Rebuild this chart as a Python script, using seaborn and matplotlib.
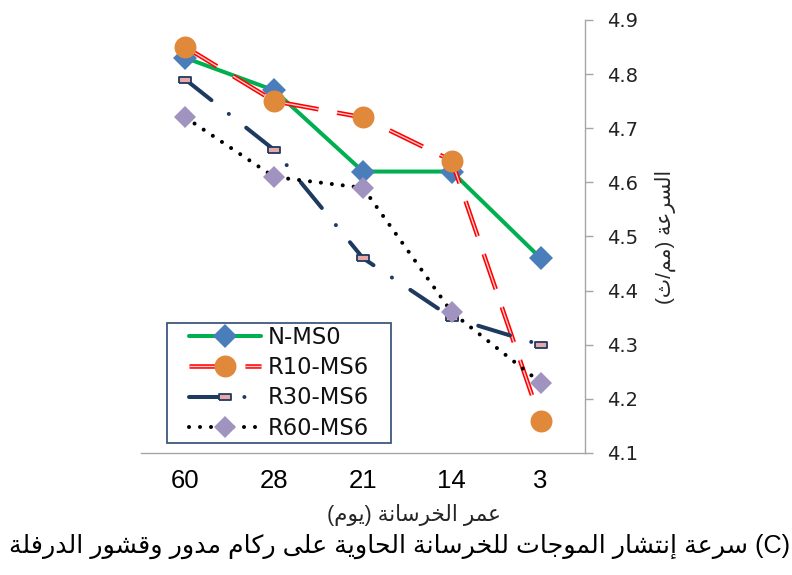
import re
import numpy as np
import pandas as pd
import matplotlib
matplotlib.use("Agg")
import matplotlib.pyplot as plt
import matplotlib.patheffects as pe
from matplotlib.lines import Line2D
from matplotlib.patches import Rectangle
from matplotlib.ticker import FixedLocator
from matplotlib.legend_handler import HandlerTuple
from matplotlib.transforms import IdentityTransform
import seaborn as sns

# ---------------- data ----------------
ages = ["60", "28", "21", "14", "3"]
n_ms0 = [4.83, 4.77, 4.62, 4.62, 4.46]
r10_ms6 = [4.85, 4.75, 4.72, 4.64, 4.16]
r30_ms6 = [4.79, 4.66, 4.46, 4.35, 4.30]
r60_ms6 = [4.72, 4.61, 4.59, 4.36, 4.23]
series_names = ["N-MS0", "R10-MS6", "R30-MS6", "R60-MS6"]
y_ticks = [4.1, 4.2, 4.3, 4.4, 4.5, 4.6, 4.7, 4.8, 4.9]
x_title = "عمر الخرسانة (يوم)"
y_title = "السرعة (مم/ث)"
caption = "(C) سرعة إنتشار الموجات للخرسانة الحاوية على ركام مدور وقشور الدرفلة"

# ------------- minimal Arabic shaping + RTL ordering -------------
AR = {
    'ء': (0xFE80,), 'آ': (0xFE81, 0xFE82), 'أ': (0xFE83, 0xFE84),
    'إ': (0xFE87, 0xFE88), 'ا': (0xFE8D, 0xFE8E),
    'ب': (0xFE8F, 0xFE90, 0xFE91, 0xFE92), 'ة': (0xFE93, 0xFE94),
    'ت': (0xFE95, 0xFE96, 0xFE97, 0xFE98), 'ث': (0xFE99, 0xFE9A, 0xFE9B, 0xFE9C),
    'ج': (0xFE9D, 0xFE9E, 0xFE9F, 0xFEA0), 'ح': (0xFEA1, 0xFEA2, 0xFEA3, 0xFEA4),
    'خ': (0xFEA5, 0xFEA6, 0xFEA7, 0xFEA8), 'د': (0xFEA9, 0xFEAA),
    'ذ': (0xFEAB, 0xFEAC), 'ر': (0xFEAD, 0xFEAE), 'ز': (0xFEAF, 0xFEB0),
    'س': (0xFEB1, 0xFEB2, 0xFEB3, 0xFEB4), 'ش': (0xFEB5, 0xFEB6, 0xFEB7, 0xFEB8),
    'ص': (0xFEB9, 0xFEBA, 0xFEBB, 0xFEBC), 'ض': (0xFEBD, 0xFEBE, 0xFEBF, 0xFEC0),
    'ط': (0xFEC1, 0xFEC2, 0xFEC3, 0xFEC4), 'ظ': (0xFEC5, 0xFEC6, 0xFEC7, 0xFEC8),
    'ع': (0xFEC9, 0xFECA, 0xFECB, 0xFECC), 'غ': (0xFECD, 0xFECE, 0xFECF, 0xFED0),
    'ف': (0xFED1, 0xFED2, 0xFED3, 0xFED4), 'ق': (0xFED5, 0xFED6, 0xFED7, 0xFED8),
    'ك': (0xFED9, 0xFEDA, 0xFEDB, 0xFEDC), 'ل': (0xFEDD, 0xFEDE, 0xFEDF, 0xFEE0),
    'م': (0xFEE1, 0xFEE2, 0xFEE3, 0xFEE4), 'ن': (0xFEE5, 0xFEE6, 0xFEE7, 0xFEE8),
    'ه': (0xFEE9, 0xFEEA, 0xFEEB, 0xFEEC), 'و': (0xFEED, 0xFEEE),
    'ى': (0xFEEF, 0xFEF0), 'ي': (0xFEF1, 0xFEF2, 0xFEF3, 0xFEF4),
}


def shape(s):
    out = []
    for i, ch in enumerate(s):
        f = AR.get(ch)
        if f is None:
            out.append(ch)
            continue
        prev = s[i - 1] if i > 0 else ''
        nxt = s[i + 1] if i + 1 < len(s) else ''
        jp = prev in AR and len(AR[prev]) == 4 and len(f) >= 2
        jn = len(f) == 4 and nxt in AR and len(AR[nxt]) >= 2
        if jp and jn:
            cp = f[3]
        elif jp:
            cp = f[1]
        elif jn:
            cp = f[2]
        else:
            cp = f[0]
        out.append(chr(cp))
    return ''.join(out)


MIRROR = {'(': ')', ')': '('}


def rtl(s):
    t = shape(s)[::-1]
    t = ''.join(MIRROR.get(c, c) for c in t)
    return re.sub(r'[A-Za-z0-9.]+', lambda m: m.group(0)[::-1], t)


# ---------------- style ----------------
sns.set_style("white")
plt.rcParams['font.family'] = ['DejaVu Sans']
AR_FONT = ['Liberation Sans', 'DejaVu Sans']

GRAY = '#a6a6a6'
GREEN = '#00B050'
BLUE_D = '#4A7EBB'
RED = '#FF0000'
ORANGE = '#E0893B'
NAVY = '#1F3A60'
PINK = '#E8A8A8'
LAV = '#A093C0'

fig = plt.figure(figsize=(7.92, 5.75), dpi=100)
ax = fig.add_axes([141 / 792, 122 / 575, 444 / 792, 433 / 575])

df = pd.DataFrame({
    "age": ages * 4,
    "v": n_ms0 + r10_ms6 + r30_ms6 + r60_ms6,
    "s": np.repeat(series_names, len(ages)),
})

line_styles = {
    "N-MS0": dict(color=GREEN, lw=2.9, dashes=None, cap='butt'),
    "R10-MS6": dict(color=RED, lw=3.25, dashes=(8.2, 4.2), cap='butt'),
    "R30-MS6": dict(color=NAVY, lw=2.9, dashes=(8.25, 5.5, 0.01, 5.5), cap='round'),
    "R60-MS6": dict(color='black', lw=2.9, dashes=(0.01, 2.72), cap='round'),
}
rect_marker = [(-1, -0.45), (1, -0.45), (1, 0.45), (-1, 0.45), (-1, -0.45)]
marker_styles = {
    "N-MS0": dict(marker='D', markersize=12.7, markerfacecolor=BLUE_D,
                  markeredgecolor=BLUE_D, markeredgewidth=0),
    "R10-MS6": dict(marker='o', markersize=15.8, markerfacecolor=ORANGE,
                    markeredgecolor=ORANGE, markeredgewidth=0),
    "R30-MS6": dict(marker=rect_marker, markersize=8.6, markerfacecolor=PINK,
                    markeredgecolor=NAVY, markeredgewidth=1.3),
    "R60-MS6": dict(marker='D', markersize=11.2, markerfacecolor=LAV,
                    markeredgecolor=LAV, markeredgewidth=0),
}
red_effects = [pe.Stroke(linewidth=3.25, foreground=RED),
               pe.Stroke(linewidth=1.0, foreground='#FFCCCC')]

handles = []
for k, name in enumerate(series_names):
    sub = df[df["s"] == name]
    st = line_styles[name]
    sns.lineplot(data=sub, x="age", y="v", ax=ax, sort=False, errorbar=None,
                 color=st['color'], lw=st['lw'], zorder=2 + k)
    ln = ax.lines[-1]
    ln.set_solid_capstyle('round')
    if st['dashes'] is not None:
        ln.set_dashes(st['dashes'])
        ln.set_dash_capstyle(st['cap'])
    if name == "R10-MS6":
        ln.set_path_effects(red_effects)
    ms = marker_styles[name]
    sns.lineplot(data=sub, x="age", y="v", ax=ax, sort=False, errorbar=None,
                 linestyle='none', zorder=2.5 + k, **ms)

    h_line = Line2D([], [], color=st['color'], lw=st['lw'])
    if st['dashes'] is not None:
        h_line.set_dashes(st['dashes'])
        h_line.set_dash_capstyle(st['cap'])
    if name == "R10-MS6":
        h_line.set_path_effects(red_effects)
    h_mark = Line2D([], [], linestyle='none', **ms)
    handles.append((h_line, h_mark))

# ---------------- axes ----------------
ax.set_xlim(-0.5, len(ages) - 0.5)
ax.set_ylim(y_ticks[0], y_ticks[-1])
ax.set_yticks(y_ticks)
ax.set_yticklabels([f"{t:.1f}" for t in y_ticks])
ax.yaxis.tick_right()
for side in ("left", "top"):
    ax.spines[side].set_visible(False)
for side in ("right", "bottom"):
    ax.spines[side].set_color(GRAY)
    ax.spines[side].set_linewidth(1.0)
ax.tick_params(axis='y', which='major', direction='out', length=6, width=1,
               color=GRAY, pad=10, labelsize=14, labelcolor='#222222')
ax.xaxis.set_minor_locator(FixedLocator(np.arange(-0.5, len(ages), 1.0)))
ax.tick_params(axis='x', which='major', length=0, pad=11.5, labelsize=18.5,
               labelcolor='black')
ax.tick_params(axis='x', which='minor', direction='out', length=6, width=1,
               color=GRAY)
for lab in ax.get_xticklabels():
    lab.set_family(['Liberation Sans', 'DejaVu Sans'])

ax.set_xlabel(rtl(x_title), fontsize=15.5, family=AR_FONT)
ax.xaxis.set_label_coords((414 - 141) / 444, (453 - 515) / 433)
ax.xaxis.label.set_va('center')

ax.yaxis.set_label_position('right')
ax.set_ylabel(rtl(y_title), fontsize=14.8, family=AR_FONT, rotation=90)
ax.yaxis.set_label_coords((665 - 141) / 444, (453 - 237) / 433)
ax.yaxis.label.set_va('center')
ax.yaxis.label.set_ha('center')

fig.text(400 / 792, 1 - 546 / 575, rtl(caption), ha='center', va='center',
         fontsize=18.2, family=AR_FONT, color='black')

# ---------------- legend ----------------
leg = ax.legend(handles, series_names, handler_map={tuple: HandlerTuple(ndivide=1)},
                loc='upper left', bbox_to_anchor=(189 / 792, 1 - 326 / 575),
                bbox_transform=fig.transFigure, frameon=False, borderpad=0,
                borderaxespad=0, fontsize=16.3, handlelength=3.2,
                handletextpad=0.3, labelspacing=0.32)
leg.set_zorder(10)
for t in leg.get_texts():
    t.set_color('#111111')

fig.canvas.draw()
bb = leg.get_window_extent()
frame = Rectangle((bb.x0 - 22, bb.y0 - 3), bb.width + 44, bb.height + 6,
                  transform=IdentityTransform(), facecolor='white',
                  edgecolor='#3F587F', lw=1.3, zorder=9, clip_on=False)
ax.add_artist(frame)

fig.savefig("out.png", dpi=100)
